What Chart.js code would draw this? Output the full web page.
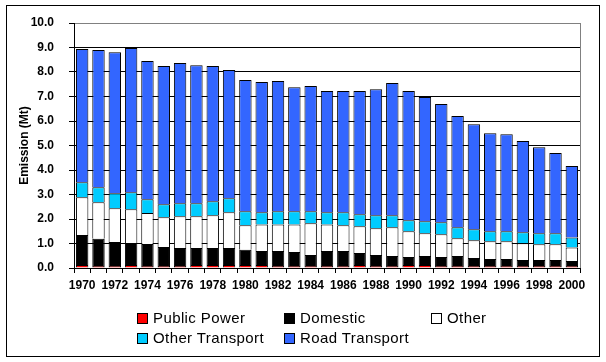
<!DOCTYPE html>
<html>
<head>
<meta charset="utf-8">
<script src="https://cdn.jsdelivr.net/npm/chart.js@4.4.1/dist/chart.umd.min.js"></script>
<style>
body { margin: 0; background: #fff; }
#wrap { position: relative; width: 606px; height: 362px; }
#legend { position: absolute; left: 137px; top: 309px; font-family: "Liberation Sans", Arial, sans-serif; font-size: 15px; letter-spacing: 0.4px; color: #000; }
.item { position: absolute; white-space: nowrap; }
.box { display: inline-block; width: 9px; height: 9px; border: 1px solid #000; margin-right: 5px; vertical-align: -1px; }
</style>
</head>
<body>
<div id="wrap">
  <canvas id="chart" width="606" height="362"></canvas>
  <div id="legend"></div>
</div>
<script>
// 年
const years = [];
for (let y = 1970; y <= 2000; y++) years.push(String(y));

// 各部門の排出量(Mt)
const public_power = [0.12,0.08,0.08,0.12,0.08,0.08,0.08,0.12,0.12,0.12,0.12,0.12,0.08,0.08,0.08,0.08,0.08,0.12,0.08,0.08,0.12,0.12,0.08,0.08,0.08,0.08,0.08,0.08,0.08,0.08,0.08];
const domestic     = [1.23,1.11,0.98,0.90,0.90,0.78,0.74,0.70,0.70,0.70,0.62,0.57,0.61,0.57,0.45,0.61,0.61,0.49,0.45,0.41,0.33,0.37,0.37,0.41,0.33,0.29,0.29,0.25,0.25,0.25,0.21];
const other        = [1.54,1.49,1.38,1.38,1.27,1.21,1.29,1.29,1.33,1.46,1.00,1.09,1.09,1.13,1.30,1.09,1.05,1.09,1.09,1.17,1.05,0.93,0.93,0.72,0.72,0.72,0.72,0.68,0.64,0.64,0.55];
const other_trans  = [0.61,0.62,0.61,0.69,0.56,0.53,0.53,0.53,0.57,0.57,0.58,0.50,0.54,0.54,0.49,0.50,0.54,0.49,0.53,0.49,0.45,0.49,0.49,0.45,0.45,0.41,0.41,0.45,0.45,0.45,0.41];
const road_trans   = [5.44,5.60,5.76,5.89,5.64,5.64,5.73,5.64,5.52,5.23,5.35,5.31,5.31,5.06,5.11,4.94,4.94,5.03,5.15,5.40,5.27,5.07,4.82,4.54,4.29,4.00,3.96,3.72,3.51,3.27,2.91];

const series_names  = ["Public Power", "Domestic", "Other", "Other Transport", "Road Transport"];
const series_colors = ["#ff0000", "#000000", "#ffffff", "#00ccff", "#3366ff"];
const series_data   = [public_power, domestic, other, other_trans, road_trans];

const datasets = series_data.map(function (d, i) {
    return {
        label: series_names[i],
        data: d,
        backgroundColor: series_colors[i],
        borderColor: "#000",
        borderWidth: 1,
        barPercentage: 0.76,
        categoryPercentage: 1.0
    };
});

// 枠線と右端の灰色線
const framePlugin = {
    id: "frame",
    afterDraw(chart) {
        const c = chart.ctx;
        const a = chart.chartArea;
        c.save();
        c.strokeStyle = "#808080";
        c.lineWidth = 1;
        c.beginPath();
        c.moveTo(Math.round(a.right) + 0.5, a.top);
        c.lineTo(Math.round(a.right) + 0.5, a.bottom);
        c.stroke();
        c.strokeStyle = "#000";
        c.strokeRect(6.5, 5.5, 593, 351);
        c.restore();
    }
};

const boldFont = { family: "'Liberation Sans', Arial, sans-serif", size: 12, weight: "bold" };

const ctx = document.getElementById("chart").getContext("2d");
const myChart = new Chart(ctx, {
    type: "bar",
    data: { labels: years, datasets: datasets },
    plugins: [framePlugin],
    options: {
        responsive: false,
        animation: false,
        layout: { padding: { left: 0, right: 26, top: 23, bottom: 0 } },
        plugins: { legend: { display: false }, tooltip: { enabled: false } },
        scales: {
            x: {
                stacked: true,
                offset: true,
                grid: { display: true, drawOnChartArea: false, drawTicks: true, tickLength: 5, color: "#000", offset: true },
                border: { color: "#000" },
                ticks: {
                    autoSkip: false, maxRotation: 0, minRotation: 0, padding: 5,
                    color: "#000", font: boldFont,
                    callback: function (val, i) { return i % 2 === 0 ? this.getLabelForValue(val) : ""; }
                },
                afterFit: function (s) { s.height = 94; }
            },
            y: {
                stacked: true,
                min: 0, max: 10,
                grid: {
                    color: function (c) { return c.tick && c.tick.value === 10 ? "#808080" : "#000"; },
                    tickColor: "#000",
                    tickLength: 5
                },
                border: { color: "#000" },
                ticks: {
                    stepSize: 1, padding: 15, color: "#000", font: boldFont,
                    callback: function (v) { return v.toFixed(1); }
                },
                title: { display: true, text: "Emission (Mt)", color: "#000", font: boldFont, padding: { top: 17, bottom: 0 } },
                afterFit: function (s) { s.width = 74; }
            }
        }
    }
});

// 凡例(3列)
const legend = document.getElementById("legend");
datasets.forEach(function (ds, i) {
    const item = document.createElement("div");
    item.className = "item";
    item.style.left = (i % 3) * 147 + "px";
    item.style.top = Math.floor(i / 3) * 20 + "px";
    item.innerHTML = '<span class="box" style="background:' + ds.backgroundColor + '"></span>' + ds.label;
    legend.appendChild(item);
});
</script>
</body>
</html>
